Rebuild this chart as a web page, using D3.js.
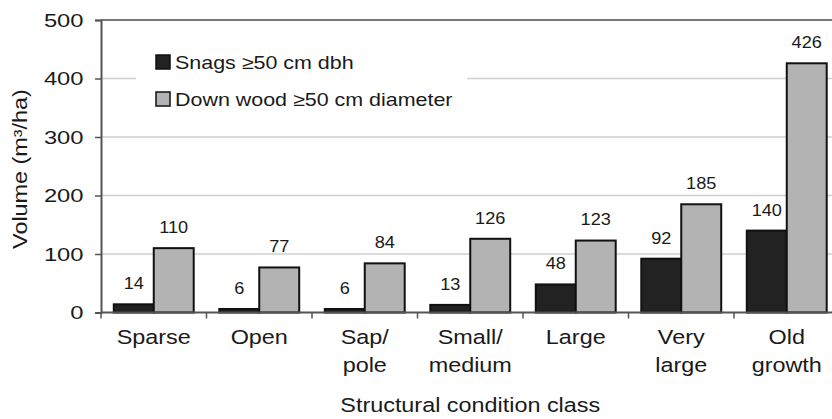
<!DOCTYPE html>
<html>
<head>
<meta charset="utf-8">
<script src="https://cdn.jsdelivr.net/npm/d3@7"></script>
<style>
  body { margin: 0; background: #fff; }
  svg { display: block; font-family: "Liberation Sans", Arial, sans-serif; }
</style>
</head>
<body>
<figure id="bar" style="margin:0"></figure>
<script>
// data
const categories = [["Sparse"], ["Open"], ["Sap/", "pole"], ["Small/", "medium"], ["Large"], ["Very", "large"], ["Old", "growth"]];
const seriesNames = ["Snags \u226550 cm dbh", "Down wood \u226550 cm diameter"];
const snags = [14, 6, 6, 13, 48, 92, 140];
const downWood = [110, 77, 84, 126, 123, 185, 426];
const yTicks = [0, 100, 200, 300, 400, 500];

const width = 832, height = 419;
const margin = { left: 101, top: 20, bottom: 106.5 };
const plotH = height - margin.top - margin.bottom;
const bandStep = 105.5;
const colors = ["#222222", "#b3b3b3"];
const ink = "#1a1a1a";
// the source font is wider than Liberation Sans, so text is stretched sideways
const wide = 1.2;

const svg = d3.select("figure#bar")
  .append("svg")
  .attr("width", width)
  .attr("height", height);

const keys = categories.map((c, i) => i);

// category scale (plot runs a little past the right edge of the image)
const x = d3.scaleBand()
  .domain(keys)
  .range([margin.left, margin.left + bandStep * keys.length])
  .padding(0);

const xs = d3.scaleBand()
  .domain([0, 1])
  .range([0, x.bandwidth()])
  .paddingInner(0)
  .paddingOuter(0.32);

const y = d3.scaleLinear()
  .domain([0, 500])
  .range([margin.top + plotH, margin.top]);

const plotRight = x.range()[1];

// gridlines
svg.append("g")
  .selectAll("line")
  .data(yTicks.filter(t => t > 0 && t < 500))
  .enter()
  .append("line")
  .attr("x1", margin.left)
  .attr("x2", plotRight)
  .attr("y1", d => y(d))
  .attr("y2", d => y(d))
  .attr("stroke", "#cfcfcf")
  .attr("stroke-width", 1.5);

// top border line
svg.append("line")
  .attr("x1", margin.left).attr("x2", plotRight)
  .attr("y1", y(500)).attr("y2", y(500))
  .attr("stroke", "#777").attr("stroke-width", 2);

// legend box (white, hides gridline)
const legend = svg.append("g");
legend.append("rect")
  .attr("x", 136).attr("y", 40)
  .attr("width", 331).attr("height", 80)
  .attr("fill", "#fff");

seriesNames.forEach((name, i) => {
  const ly = 62 + i * 37;
  legend.append("rect")
    .attr("x", 156).attr("y", ly - 7)
    .attr("width", 14).attr("height", 14)
    .attr("fill", colors[i])
    .attr("stroke", "#111").attr("stroke-width", 1.5);
  legend.append("text")
    .attr("transform", "translate(175," + ly + ") scale(1.16,1)")
    .attr("dy", "0.36em")
    .attr("font-size", 18.5)
    .attr("fill", ink)
    .text(name);
});

// bars
const rows = keys.map(i => ({ i, vals: [snags[i], downWood[i]] }));
const groups = svg.append("g")
  .selectAll("g")
  .data(rows)
  .enter()
  .append("g")
  .attr("transform", d => "translate(" + x(d.i) + ",0)");

groups.selectAll("rect")
  .data(d => d.vals.map((v, s) => ({ v, s })))
  .enter()
  .append("rect")
  .attr("x", d => xs(d.s))
  .attr("y", d => y(d.v))
  .attr("width", xs.bandwidth())
  .attr("height", d => y(0) - y(d.v))
  .attr("fill", d => colors[d.s])
  .attr("stroke", "#111")
  .attr("stroke-width", 2);

groups.selectAll("text")
  .data(d => d.vals.map((v, s) => ({ v, s })))
  .enter()
  .append("text")
  .attr("transform", d => "translate(" + (xs(d.s) + xs.bandwidth() / 2) + "," + (y(d.v) - 21) + ") scale(1.1,1)")
  .attr("dy", "0.36em")
  .attr("text-anchor", "middle")
  .attr("font-size", 16.5)
  .attr("fill", ink)
  .text(d => d.v);

// y axis
const yAxis = svg.append("g")
  .attr("transform", "translate(" + margin.left + ",0)")
  .call(d3.axisLeft(y).tickValues(yTicks).tickSize(6).tickPadding(8));
yAxis.select(".domain").attr("stroke", "#555").attr("stroke-width", 2);
yAxis.selectAll(".tick line").attr("stroke", "#555").attr("stroke-width", 1.5);
yAxis.selectAll("text")
  .attr("transform", "scale(1.25,1)")
  .attr("font-size", 19)
  .attr("fill", ink)
  .attr("font-family", "Liberation Sans, Arial, sans-serif");

// x axis: ticks at band boundaries
const xAxis = svg.append("g")
  .attr("transform", "translate(0," + y(0) + ")");
xAxis.append("line")
  .attr("x1", margin.left).attr("x2", plotRight)
  .attr("stroke", "#555").attr("stroke-width", 2);
xAxis.selectAll(".bt")
  .data(keys.concat([keys.length]))
  .enter()
  .append("line")
  .attr("class", "bt")
  .attr("x1", d => margin.left + d * x.step())
  .attr("x2", d => margin.left + d * x.step())
  .attr("y1", 0).attr("y2", 6)
  .attr("stroke", "#555").attr("stroke-width", 1.5);

const labels = xAxis.selectAll(".cat")
  .data(keys)
  .enter()
  .append("text")
  .attr("class", "cat")
  .attr("text-anchor", "middle")
  .attr("font-size", 19.5)
  .attr("fill", ink)
  .attr("transform", d => "translate(" + (x(d) + x.bandwidth() / 2) + ",0) scale(" + wide + ",1)");
labels.selectAll("tspan")
  .data(d => categories[d])
  .enter()
  .append("tspan")
  .attr("x", 0)
  .attr("y", (d, i) => 32 + i * 28)
  .text(d => d);

// axis titles
svg.append("text")
  .attr("transform", "translate(" + ((margin.left + plotRight) / 2) + ",412) scale(" + wide + ",1)")
  .attr("text-anchor", "middle")
  .attr("font-size", 19.5)
  .attr("fill", ink)
  .text("Structural condition class");

svg.append("text")
  .attr("transform", "translate(27,169) rotate(-90) scale(" + wide + ",1)")
  .attr("text-anchor", "middle")
  .attr("font-size", 19.5)
  .attr("fill", ink)
  .text("Volume (m\u00b3/ha)");
</script>
</body>
</html>
